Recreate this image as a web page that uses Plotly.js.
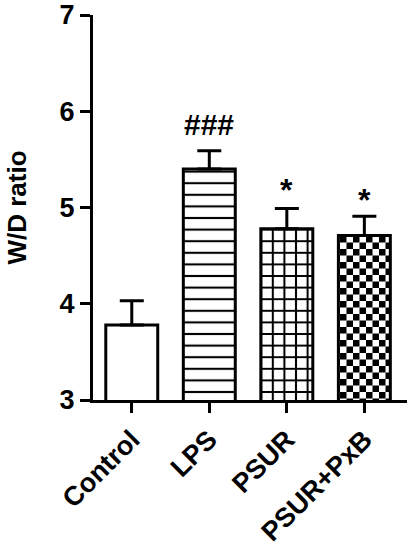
<!DOCTYPE html>
<html>
<head>
<meta charset="utf-8">
<script src="https://cdn.plot.ly/plotly-3.0.1.min.js"></script>
<style>
  html, body { margin: 0; padding: 0; background: #fff; }
  #chart { width: 413px; height: 550px; }
</style>
</head>
<body>
<div id="chart"></div>
<script>
// values
const groups = ['Control', 'LPS', 'PSUR', 'PSUR+PxB'];
const wdRatio = [3.78, 5.40, 4.78, 4.71];
const errUp = [0.25, 0.19, 0.21, 0.20];
const marks = ['', '###', '*', '*'];
const markY = [null, 5.86, 5.18, 5.08];

const fontFam = 'Arial, "Liberation Sans", sans-serif';

const bars = {
    type: 'bar',
    x: groups,
    y: wdRatio,
    width: 0.67,
    marker: {
        color: 'white',
        line: { color: 'black', width: 3 },
        pattern: {
            shape: ['', '-', '+', '.'],
            fgcolor: 'black',
            bgcolor: 'white',
            fillmode: 'replace',
            size: [8, 11.6, 11.6, 13],
            solidity: [0.2, 0.18, 0.32, 0.5],
        },
    },
    error_y: {
        type: 'data',
        symmetric: false,
        array: errUp,
        arrayminus: [0, 0, 0, 0],
        color: 'black',
        thickness: 3,
        width: 12,
    },
    hoverinfo: 'skip',
};

const annotations = [];
groups.forEach((g, i) => {
    if (!marks[i]) return;
    annotations.push({
        x: g, y: markY[i],
        xref: 'x', yref: 'y',
        text: marks[i],
        showarrow: false,
        yanchor: 'middle',
        font: { family: fontFam, size: marks[i] === '*' ? 32 : 30, weight: 'bold', color: 'black' },
    });
});

const layout = {
    width: 413,
    height: 550,
    margin: { l: 93, r: 6, t: 15, b: 150 },
    paper_bgcolor: 'white',
    plot_bgcolor: 'white',
    showlegend: false,
    font: { family: fontFam, color: 'black' },
    xaxis: {
        range: [-0.5, 3.55],
        showline: true, linecolor: 'black', linewidth: 3,
        ticks: 'outside', ticklen: 10, tickwidth: 3, tickcolor: 'black',
        tickangle: -45,
        tickfont: { size: 27, weight: 'bold' },
        showgrid: false, zeroline: false,
    },
    yaxis: {
        range: [3, 7],
        dtick: 1,
        showline: true, linecolor: 'black', linewidth: 3,
        ticks: 'outside', ticklen: 10, tickwidth: 3, tickcolor: 'black',
        tickfont: { size: 27, weight: 'bold' },
        showgrid: false, zeroline: false,
        title: { text: 'W/D ratio', font: { size: 26, weight: 'bold' }, standoff: 26 },
    },
    annotations,
};

// Plotly has no checkerboard pattern, so swap the 4th bar's pattern tiles
function makeChecker(gd, idx, s) {
    const paths = gd.querySelectorAll('.barlayer .point path');
    if (!paths[idx]) return;
    const m = (paths[idx].style.fill || '').match(/#([^"')]+)/);
    if (!m) return;
    const pat = document.getElementById(m[1]);
    if (!pat) return;
    const ns = 'http://www.w3.org/2000/svg';
    while (pat.firstChild) pat.removeChild(pat.firstChild);
    pat.setAttribute('width', 2 * s);
    pat.setAttribute('height', 2 * s);
    [[0, 0, 2 * s, 'white'], [0, 0, s, 'black'], [s, s, s, 'black']].forEach(([x, y, w, c]) => {
        const r = document.createElementNS(ns, 'rect');
        r.setAttribute('x', x); r.setAttribute('y', y);
        r.setAttribute('width', w); r.setAttribute('height', w);
        r.setAttribute('fill', c);
        pat.appendChild(r);
    });
}

Plotly.newPlot('chart', [bars], layout, { displayModeBar: false, staticPlot: true })
    .then((gd) => makeChecker(gd, 3, 6.5));
</script>
</body>
</html>
